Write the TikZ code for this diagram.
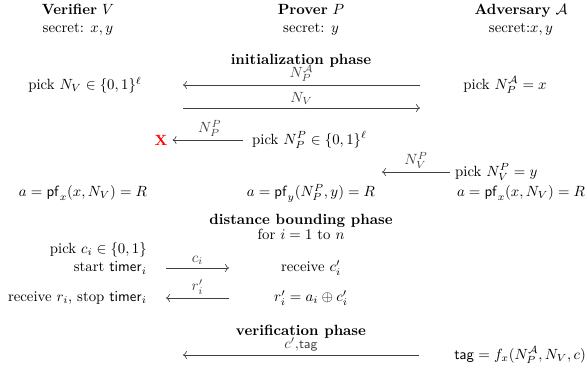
\documentclass[tikz,border=0pt]{standalone}
\usepackage{amsmath,amssymb}
\usetikzlibrary{arrows.meta,positioning}
\newcommand{\pf}{\mathsf{pf}}
\newcommand{\timer}{\mathsf{timer}}
\newcommand{\tg}{\mathsf{tag}}
\tikzset{
    party/.style={align=center, inner sep=1pt},
    phasehead/.style={font=\bfseries, inner sep=1pt},
    msg/.style={-{To}, line width=0.45pt, black!75},
    msglabel/.style={above, inner sep=2pt},
}

\begin{document}
\begin{tikzpicture}[x=0.6757pt, y=0.6757pt]
    \useasboundingbox (0,0) rectangle (587,-369);
    % parties
    \node[party] (ver) at (78,-20) {\textbf{Verifier} $V$\\ secret: $x,y$};
    \node[party] (pro) at (311,-20) {\textbf{Prover} $P$\\ secret: $y$};
    \node[party] (adv) at (521,-20) {\textbf{Adversary} $\mathcal{A}$\\ secret:$x,y$};

    % initialization phase
    \node[phasehead] (init) at (301,-61) {initialization phase};
    \node (pickNV) at (85,-85) {pick $N_V \in \{0,1\}^\ell$};
    \node (pickNA) at (505,-85) {pick $N_P^{\mathcal{A}} = x$};
    \coordinate (i1s) at (420,-85);
    \coordinate (i1e) at (183,-85);
    \draw[msg] (i1s) -- node[msglabel] {$N_P^{\mathcal{A}}$} (i1e);
    \coordinate (i2s) at (183,-108);
    \coordinate (i2e) at (420,-108);
    \draw[msg] (i2s) -- node[msglabel] {$N_V$} (i2e);

    \node[text=red, font=\bfseries] (lost) at (161,-140) {X};
    \node[anchor=west] (pickNP) at (247,-140) {pick $N_P^P \in \{0,1\}^\ell$};
    \draw[msg, shorten <=2.5pt] (pickNP.west) -- node[msglabel] {$N_P^P$} (lost.east);

    \node[anchor=west] (pickNVP) at (450,-172) {pick $N_V^P = y$};
    \coordinate (r4e) at (382,-172);
    \draw[msg] (pickNVP.west) -- node[msglabel] {$N_V^P$} (r4e);

    \node (aV) at (83,-193) {$a = \pf_x(x, N_V) = R$};
    \node (aP) at (311,-193) {$a = \pf_y(N_P^P, y) = R$};
    \node (aA) at (521,-193) {$a = \pf_x(x, N_V) = R$};

    % distance bounding phase
    \node[phasehead] (dist) at (301,-221) {distance bounding phase};
    \node (loop) at (301,-234) {for $i = 1$ to $n$};
    \node[anchor=east] (pickc) at (152,-250) {pick $c_i \in \{0,1\}$};
    \node[anchor=east] (start) at (152,-268) {start $\timer_i$};
    \node (recc) at (311,-268) {receive $c_i'$};
    \coordinate (c1) at (166,-268);
    \coordinate (c2) at (229,-268);
    \draw[msg] (c1) -- node[msglabel] {$c_i$} (c2);
    \node[anchor=east] (recr) at (152,-298) {receive $r_i$, stop $\timer_i$};
    \node (resp) at (311,-298) {$r_i' = a_i \oplus c_i'$};
    \coordinate (d1) at (229,-298);
    \coordinate (d2) at (166,-298);
    \draw[msg] (d1) -- node[msglabel] {$r_i'$} (d2);

    % verification phase
    \node[phasehead] (verif) at (301,-332) {verification phase};
    \node[anchor=east] (tagc) at (591,-355) {$\tg = f_x(N_P^{\mathcal{A}}, N_V, c)$};
    \coordinate (v1) at (419,-355);
    \coordinate (v2) at (183,-355);
    \draw[msg] (v1) -- node[msglabel] {$c'$,{\small$\tg$}} (v2);
\end{tikzpicture}
\end{document}
